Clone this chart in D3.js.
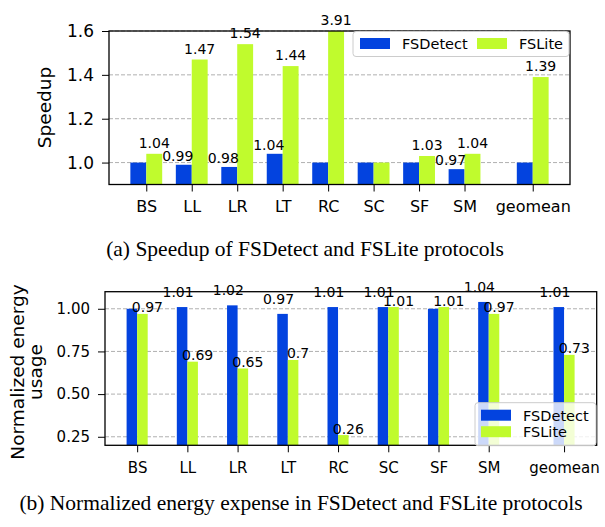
<!DOCTYPE html>
<html>
<head>
<meta charset="utf-8">
<script src="https://cdn.jsdelivr.net/npm/d3@7"></script>
<style>
  body { margin: 0; background: #fff; }
  svg { display: block; }
  .tick line { stroke: #000; }
</style>
</head>
<body>
<div id="chart"></div>
<script>
// Données
const categories = ["BS", "LL", "LR", "LT", "RC", "SC", "SF", "SM", "geomean"];
const seriesNames = ["FSDetect", "FSLite"];

const speedupDetect = [1.00, 0.99, 0.98, 1.04, 1.00, 1.00, 1.00, 0.97, 1.00];
const speedupLite   = [1.04, 1.47, 1.54, 1.44, 3.91, 1.00, 1.03, 1.04, 1.39];

const energyDetect = [1.00, 1.01, 1.02, 0.97, 1.01, 1.01, 1.00, 1.04, 1.01];
const energyLite   = [0.97, 0.69, 0.65, 0.70, 0.26, 1.01, 1.01, 0.97, 0.73];

const speedupTicks = [1.0, 1.2, 1.4, 1.6];
const energyTicks = [0.25, 0.50, 0.75, 1.00];

const colors = ["#0343df", "#c0fb2d"];
const font = "'DejaVu Sans', sans-serif";

// geomean est décalé d'un demi-cran
const pos = categories.map((c, i) => i < 8 ? i : 8.5);

const svg = d3.select('#chart')
    .append('svg')
    .attr('width', 605)
    .attr('height', 527);

function drawPanel(cfg) {
    const x = d3.scaleLinear().domain(cfg.xDomain).range(cfg.xRange);
    const y = d3.scaleLinear().domain(cfg.yDomain).range(cfg.yRange);
    const [x0, x1] = cfg.xRange;
    const [yb, yt] = cfg.yRange;
    const g = svg.append('g');

    const clipId = 'clip-' + cfg.id;
    g.append('clipPath').attr('id', clipId)
        .append('rect')
        .attr('x', x0).attr('y', yt)
        .attr('width', x1 - x0).attr('height', yb - yt);

    // grille
    g.append('g')
        .selectAll('line')
        .data(cfg.yTicks)
        .enter().append('line')
        .attr('x1', x0).attr('x2', x1)
        .attr('y1', d => y(d)).attr('y2', d => y(d))
        .attr('stroke', '#b0b0b0')
        .attr('stroke-width', 1)
        .attr('stroke-dasharray', '4,2');

    // barres
    const bars = g.append('g').attr('clip-path', `url(#${clipId})`);
    cfg.series.forEach((vals, s) => {
        bars.selectAll('rect.s' + s)
            .data(vals)
            .enter().append('rect')
            .attr('x', (d, i) => x(pos[i] + (s - 1) * cfg.barW))
            .attr('y', d => y(Math.min(d, cfg.yDomain[1])))
            .attr('width', x(cfg.barW) - x(0))
            .attr('height', d => yb - y(Math.min(d, cfg.yDomain[1])))
            .attr('fill', colors[s]);
    });

    // étiquettes de valeur (pas pour 1.00)
    cfg.series.forEach((vals, s) => {
        g.append('g')
            .selectAll('text')
            .data(vals.map((v, i) => ({ v, i })).filter(d => d.v !== 1))
            .enter().append('text')
            .attr('x', d => x(pos[d.i] + (s - 0.5) * cfg.barW) + cfg.labelDx[s])
            .attr('y', d => y(Math.min(d.v, cfg.yDomain[1])) + cfg.labelDy[s])
            .attr('text-anchor', 'middle')
            .style('font-family', font)
            .style('font-size', cfg.labelSize + 'px')
            .text(d => String(d.v));
    });

    // axes
    const yAxis = d3.axisLeft(y)
        .tickValues(cfg.yTicks)
        .tickFormat(d3.format(cfg.yFmt))
        .tickSize(7).tickSizeOuter(0).tickPadding(8);
    const ya = g.append('g')
        .attr('transform', `translate(${x0},0)`)
        .call(yAxis);
    ya.select('.domain').remove();
    ya.selectAll('text').style('font-family', font).style('font-size', cfg.yTickSize + 'px').attr('fill', '#000');

    const xAxis = d3.axisBottom(x)
        .tickValues(pos)
        .tickFormat((d, i) => categories[i])
        .tickSize(7).tickSizeOuter(0).tickPadding(cfg.xPad);
    const xa = g.append('g')
        .attr('transform', `translate(0,${yb})`)
        .call(xAxis);
    xa.select('.domain').remove();
    xa.selectAll('text').style('font-family', font).style('font-size', cfg.xTickSize + 'px').attr('fill', '#000');

    // cadre
    g.append('rect')
        .attr('x', x0).attr('y', yt)
        .attr('width', x1 - x0).attr('height', yb - yt)
        .attr('fill', 'none')
        .attr('stroke', '#000')
        .attr('stroke-width', 1.3);

    // titre de l'axe y
    cfg.yLabel.forEach((line, k) => {
        g.append('text')
            .attr('transform', `translate(${cfg.yLabelX[k]},${cfg.yLabelY}) rotate(-90)`)
            .attr('text-anchor', 'middle')
            .style('font-family', font)
            .style('font-size', cfg.yLabelSize + 'px')
            .text(line);
    });

    // légende
    const L = cfg.legend;
    g.append('rect')
        .attr('x', L.x).attr('y', L.y)
        .attr('width', L.w).attr('height', L.h)
        .attr('rx', 3)
        .attr('fill', '#fff').attr('fill-opacity', 0.8)
        .attr('stroke', '#cccccc');
    seriesNames.forEach((name, s) => {
        const ex = L.x + L.items[s][0];
        const ey = L.y + L.items[s][1];
        g.append('rect')
            .attr('x', ex).attr('y', ey)
            .attr('width', 30).attr('height', 11)
            .attr('fill', colors[s]);
        g.append('text')
            .attr('x', ex + 42).attr('y', ey + 11)
            .style('font-family', font)
            .style('font-size', '14.5px')
            .text(name);
    });

    // légende de la sous-figure
    svg.append('text')
        .attr('x', cfg.caption.x).attr('y', cfg.caption.y)
        .attr('text-anchor', 'middle')
        .style('font-family', "'Liberation Serif', 'Times New Roman', serif")
        .style('font-size', '21.5px')
        .text(cfg.caption.text);
}

drawPanel({
    id: 'a',
    series: [speedupDetect, speedupLite],
    xDomain: [-0.82, 9.32], xRange: [109, 570],
    yDomain: [0.9, 1.6], yRange: [184.5, 31],
    barW: 0.35,
    yTicks: speedupTicks, yFmt: '.1f',
    yTickSize: 17, xTickSize: 16, xPad: 9,
    labelSize: 14, labelDx: [-6, 0], labelDy: [-4, -6],
    yLabel: ['Speedup'], yLabelX: [51], yLabelY: 107.5, yLabelSize: 18.5,
    legend: { x: 353, y: 31.5, w: 216, h: 25, items: [[7, 6.5], [124, 6.5]] },
    caption: { x: 305, y: 256, text: '(a) Speedup of FSDetect and FSLite protocols' }
});

drawPanel({
    id: 'b',
    series: [energyDetect, energyLite],
    xDomain: [-0.64, 9.15], xRange: [105, 596.7],
    yDomain: [0.2, 1.1], yRange: [445.3, 291.7],
    barW: 0.21,
    yTicks: energyTicks, yFmt: '.2f',
    yTickSize: 15, xTickSize: 15, xPad: 10,
    labelSize: 14, labelDx: [-4, 5], labelDy: [-10, -1.5],
    yLabel: ['Normalized energy', 'usage'], yLabelX: [24, 42], yLabelY: 372, yLabelSize: 18.5,
    legend: { x: 475, y: 402.7, w: 121, h: 43, items: [[6, 7], [6, 23.5]] },
    caption: { x: 301, y: 510, text: '(b) Normalized energy expense in FSDetect and FSLite protocols' }
});
</script>
</body>
</html>
